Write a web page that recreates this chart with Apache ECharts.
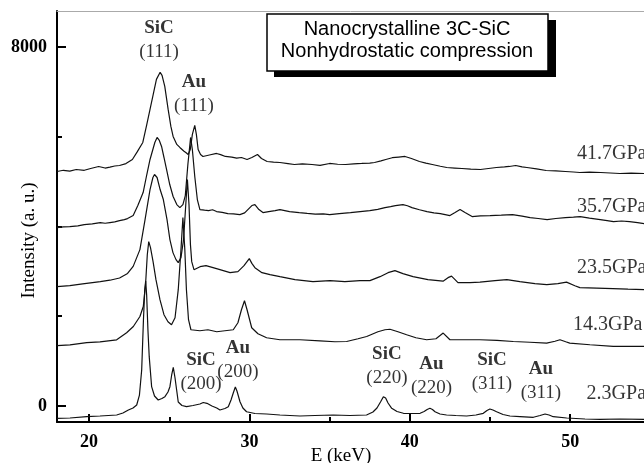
<!DOCTYPE html>
<html>
<head>
<meta charset="utf-8">
<script src="https://cdn.jsdelivr.net/npm/echarts@6/dist/echarts.min.js"></script>
<style>
  html, body { margin: 0; padding: 0; background: #fff; }
  #chart { width: 644px; height: 463px; }
</style>
</head>
<body>
<div id="chart"></div>
<script>
// axis ticks
const xMajorTicks = [20, 30, 40, 50];
const xMinorTicks = [25, 35, 45];
const yLabelTicks = [0, 8000];
const yMinorTicks = [2000, 4000, 6000];

// spectra [E (keV), intensity] (offset stack as plotted)
const p417 = [[18.0,5223],[18.4,5250],[18.8,5232],[19.2,5268],[19.7,5250],[20.1,5290],[20.6,5335],[21.0,5300],[21.3,5320],[21.6,5345],[21.9,5357],[22.3,5400],[22.7,5491],[23.0,5660],[23.35,5870],[23.6,6272],[23.8,6607],[24.0,6942],[24.2,7276],[24.43,7433],[24.55,7366],[24.72,7120],[24.93,6607],[25.1,6227],[25.24,6004],[25.47,5826],[25.66,5759],[25.9,5680],[26.05,5640],[26.18,5602],[26.31,5714],[26.44,6049],[26.59,6250],[26.69,6049],[26.8,5714],[26.95,5600],[27.1,5558],[27.5,5590],[27.95,5625],[28.2,5600],[28.5,5558],[28.9,5545],[29.2,5520],[29.5,5535],[29.85,5491],[30.15,5535],[30.5,5602],[30.75,5513],[31.1,5446],[31.5,5430],[31.9,5424],[32.4,5400],[32.8,5379],[33.3,5395],[33.9,5379],[34.4,5360],[35.0,5402],[35.5,5385],[36.0,5379],[36.5,5395],[37.0,5402],[37.5,5410],[37.8,5424],[38.2,5460],[38.5,5491],[38.9,5530],[39.3,5545],[39.7,5558],[40.1,5513],[40.6,5446],[41.0,5410],[41.4,5379],[41.9,5340],[42.3,5312],[42.8,5300],[43.25,5290],[43.8,5275],[44.4,5268],[44.9,5290],[45.4,5312],[45.9,5325],[46.2,5335],[46.6,5357],[47.0,5325],[47.3,5312],[47.9,5280],[48.5,5245],[49.1,5235],[49.7,5223],[50.2,5212],[50.6,5201],[51.2,5210],[51.9,5201],[52.5,5190],[53.1,5178],[53.8,5185],[54.6,5178]];

const p357 = [[18.0,3973],[18.4,3990],[18.8,3995],[19.3,4010],[19.7,4040],[20.2,4055],[20.7,4085],[21.0,4070],[21.3,4085],[21.6,4100],[21.9,4129],[22.2,4150],[22.4,4174],[22.75,4241],[23.04,4464],[23.37,4754],[23.6,5156],[23.8,5491],[24.1,5870],[24.24,5982],[24.38,5915],[24.52,5781],[24.67,5535],[24.83,5268],[25.03,4933],[25.24,4665],[25.47,4486],[25.66,4419],[25.85,4486],[26.0,4687],[26.16,5379],[26.33,5982],[26.44,5714],[26.59,5111],[26.75,4598],[26.91,4375],[27.2,4360],[27.45,4352],[27.7,4370],[27.95,4330],[28.3,4310],[28.65,4285],[29.0,4280],[29.4,4263],[29.7,4300],[29.84,4352],[30.15,4464],[30.34,4486],[30.59,4375],[30.84,4308],[31.2,4330],[31.6,4350],[31.9,4375],[32.5,4330],[33.1,4308],[33.6,4290],[34.1,4275],[34.6,4280],[35.0,4263],[35.6,4285],[36.3,4308],[36.9,4330],[37.5,4352],[38.0,4380],[38.45,4419],[38.8,4440],[39.1,4464],[39.57,4486],[39.85,4460],[40.13,4419],[40.6,4370],[41.07,4330],[41.5,4300],[41.9,4285],[42.5,4241],[42.82,4308],[43.13,4375],[43.44,4308],[43.88,4218],[44.4,4235],[45.0,4241],[45.7,4250],[46.4,4263],[47.0,4230],[47.5,4196],[48.0,4175],[48.56,4152],[49.1,4175],[49.7,4196],[50.2,4205],[50.62,4218],[51.2,4185],[51.87,4152],[52.3,4130],[52.7,4107],[53.2,4120],[53.7,4107],[54.2,4085],[54.6,4063]];

const p235 = [[18.0,2656],[18.8,2680],[19.6,2720],[20.7,2768],[21.3,2800],[21.9,2850],[22.4,2950],[22.75,3109],[23.17,3482],[23.49,4152],[23.8,4821],[23.98,5089],[24.08,5156],[24.24,5089],[24.43,4821],[24.63,4598],[24.86,4152],[25.04,3705],[25.23,3415],[25.42,3259],[25.56,3192],[25.73,3303],[25.89,3705],[26.01,4375],[26.13,5044],[26.23,4486],[26.32,3593],[26.4,3214],[26.54,3035],[26.92,3102],[27.29,3125],[27.73,3080],[28.16,3035],[28.79,2968],[29.28,2990],[29.66,3125],[29.99,3281],[30.16,3170],[30.34,3080],[30.78,2968],[31.28,2924],[31.9,2879],[32.84,2812],[33.96,2768],[35.02,2790],[35.95,2768],[36.89,2790],[37.51,2790],[38.14,2879],[38.64,2968],[39.07,3013],[39.57,2946],[40.2,2879],[41.13,2812],[42.07,2779],[42.38,2857],[42.6,2890],[42.82,2812],[43.0,2745],[43.75,2745],[44.37,2757],[45.31,2790],[46.05,2812],[46.86,2768],[47.8,2723],[48.54,2700],[49.23,2723],[49.77,2757],[50.29,2678],[50.6,2634],[51.66,2622],[52.66,2611],[53.6,2600],[54.6,2589]];

const p143 = [[18.0,1344],[18.81,1360],[19.85,1411],[20.68,1427],[21.72,1472],[22.34,1628],[22.76,1768],[23.17,1991],[23.38,2214],[23.52,2698],[23.63,3367],[23.72,3660],[23.83,3526],[23.99,3214],[24.17,2812],[24.42,2366],[24.67,2031],[24.92,1875],[25.14,1808],[25.36,1964],[25.56,2589],[25.73,3482],[25.85,4196],[25.97,3482],[26.07,2589],[26.2,1920],[26.35,1696],[26.91,1674],[27.41,1696],[27.96,1651],[28.47,1674],[28.99,1696],[29.28,1852],[29.5,2142],[29.69,2343],[29.85,2142],[30.14,1741],[30.53,1607],[31.07,1517],[31.9,1473],[33.15,1473],[34.4,1450],[35.33,1428],[36.06,1434],[36.77,1495],[37.31,1545],[38.01,1651],[38.45,1696],[38.76,1707],[39.26,1651],[39.8,1585],[40.38,1517],[41.05,1473],[41.63,1495],[42.08,1622],[42.5,1473],[43.43,1473],[44.37,1473],[45.43,1461],[46.45,1434],[47.49,1417],[48.53,1399],[49.05,1439],[49.36,1473],[49.72,1428],[49.97,1399],[51.23,1362],[52.68,1324],[54.6,1324]];

const p23 = [[18.0,-278],[18.81,-271],[19.85,-242],[20.68,-226],[21.72,-204],[22.11,-159],[22.45,-92],[22.74,-48],[22.97,19],[23.14,241],[23.28,799],[23.39,1915],[23.47,2584],[23.53,2784],[23.59,2472],[23.67,1692],[23.75,1096],[23.9,427],[24.08,220],[24.31,130],[24.54,164],[24.73,204],[24.92,309],[25.04,427],[25.15,688],[25.25,859],[25.36,621],[25.46,353],[25.56,86],[25.79,8],[26.08,-19],[26.48,8],[26.91,41],[27.12,75],[27.35,57],[27.66,-3],[27.96,-48],[28.16,-92],[28.47,-59],[28.68,-19],[28.85,130],[28.99,286],[29.12,420],[29.22,331],[29.41,92],[29.59,-48],[29.82,-131],[30.34,-171],[31.07,-182],[31.9,-204],[33.15,-226],[34.08,-215],[35.22,-204],[36.26,-215],[37.3,-204],[37.7,-137],[37.95,-48],[38.17,86],[38.35,204],[38.49,175],[38.64,63],[38.87,-55],[39.2,-126],[39.6,-166],[40.14,-171],[40.64,-166],[40.89,-126],[41.08,-81],[41.25,-55],[41.41,-81],[41.57,-131],[41.88,-182],[42.29,-204],[42.87,-215],[43.54,-226],[44.12,-204],[44.58,-166],[44.81,-104],[44.99,-70],[45.18,-92],[45.41,-131],[45.81,-193],[46.24,-226],[46.87,-238],[47.7,-255],[48.12,-215],[48.43,-182],[48.68,-204],[48.94,-242],[49.78,-271],[50.92,-293],[51.86,-300],[53.1,-293],[54.6,-300]];

const spectra = [p417, p357, p235, p143, p23];

// reflection labels
const peakNames = ['SiC', 'Au', 'SiC', 'Au', 'SiC', 'Au', 'SiC', 'Au'];
const peakHkl = ['(111)', '(111)', '(200)', '(200)', '(220)', '(220)', '(311)', '(311)'];
const peakE = [24.36, 26.54, 26.98, 29.28, 38.57, 41.35, 45.12, 48.17];
const peakI = [8155, 6951, 755, 1022, 888, 654, 755, 554];

// pressure labels
const pressNames = ['41.7GPa', '35.7GPa', '23.5GPa', '14.3GPa', '2.3GPa'];
const pressE = [50.42, 50.42, 50.42, 50.17, 51.02];
const pressI = [5614, 4432, 3073, 1802, 264];

const serif = '"Liberation Serif", "DejaVu Serif", serif';
const xMin = 18, xMax = 54.6, yMin = -360, yMax = 8800;

const chart = echarts.init(document.getElementById('chart'));

const lineSeries = spectra.map(d => ({
  type: 'line',
  data: d,
  showSymbol: false,
  symbol: 'none',
  smooth: false,
  lineStyle: { color: '#111', width: 1.2 },
  silent: true,
  z: 2
}));

chart.setOption({
  animation: false,
  backgroundColor: '#fff',
  grid: { left: 57, right: 0, top: 11, bottom: 41, containLabel: false, outerBoundsMode: 'none' },
  xAxis: [
    {
      type: 'value', min: xMin, max: xMax, position: 'bottom',
      axisLine: { onZero: false, lineStyle: { color: '#000', width: 2 } },
      axisTick: { inside: true, length: 8, customValues: xMajorTicks, lineStyle: { color: '#000', width: 2 } },
      axisLabel: { customValues: xMajorTicks, margin: 11, color: '#000', fontFamily: serif, fontSize: 18, fontWeight: 'bold', formatter: v => String(v) },
      splitLine: { show: false },
      name: 'E (keV)', nameLocation: 'middle', nameGap: 25, nameMoveOverlap: false,
      nameTextStyle: { color: '#000', fontFamily: serif, fontSize: 19, padding: [0, 19, 0, 0] }
    },
    {
      type: 'value', min: xMin, max: xMax, position: 'bottom',
      axisLine: { show: false, onZero: false },
      axisTick: { inside: true, length: 5, customValues: xMinorTicks, lineStyle: { color: '#000', width: 2 } },
      axisLabel: { show: false },
      splitLine: { show: false }
    },
    {
      type: 'value', min: xMin, max: xMax, position: 'top',
      axisLine: { onZero: false, lineStyle: { color: '#aaa', width: 1 } },
      axisTick: { show: false }, axisLabel: { show: false }, splitLine: { show: false }
    }
  ],
  yAxis: [
    {
      type: 'value', min: yMin, max: yMax, position: 'left',
      axisLine: { onZero: false, lineStyle: { color: '#000', width: 2 } },
      axisTick: { inside: true, length: 9, customValues: yLabelTicks, lineStyle: { color: '#000', width: 2 } },
      axisLabel: { customValues: yLabelTicks, margin: 10, color: '#000', fontFamily: serif, fontSize: 18, fontWeight: 'bold', formatter: v => String(v) },
      splitLine: { show: false },
      name: 'Intensity (a. u.)', nameLocation: 'middle', nameGap: 18, nameRotate: 90, nameMoveOverlap: false,
      nameTextStyle: { color: '#000', fontFamily: serif, fontSize: 19, padding: [0, 48, 0, 0] }
    },
    {
      type: 'value', min: yMin, max: yMax, position: 'left',
      axisLine: { show: false, onZero: false },
      axisTick: { inside: true, length: 5, customValues: yMinorTicks, lineStyle: { color: '#000', width: 2 } },
      axisLabel: { show: false },
      splitLine: { show: false }
    }
  ],
  graphic: [
    { type: 'rect', shape: { x: 274, y: 20, width: 282, height: 57 }, style: { fill: '#000' }, z: 10 },
    { type: 'rect', shape: { x: 267, y: 14, width: 281, height: 57 }, style: { fill: '#fff', stroke: '#000', lineWidth: 1.5 }, z: 11 },
    {
      type: 'text', x: 407, y: 40, z: 12,
      style: {
        text: 'Nanocrystalline 3C-SiC\nNonhydrostatic compression',
        align: 'center', verticalAlign: 'middle', lineHeight: 22,
        fontFamily: '"Liberation Sans", Arial, sans-serif', fontSize: 20, fill: '#000'
      }
    }
  ],
  series: lineSeries.concat([
    {
      type: 'scatter',
      symbolSize: 0,
      silent: true,
      data: peakE.map((e, i) => ({ value: [e, peakI[i]], name: peakNames[i], hkl: peakHkl[i] })),
      label: {
        show: true, position: 'inside',
        formatter: p => '{b|' + p.data.name + '}\n{n|' + p.data.hkl + '}',
        rich: {
          b: { fontFamily: serif, fontSize: 19, fontWeight: 'bold', color: '#000', lineHeight: 24, align: 'center' },
          n: { fontFamily: serif, fontSize: 19, color: '#000', lineHeight: 24, align: 'center' }
        }
      },
      z: 5
    },
    {
      type: 'scatter',
      symbolSize: 0,
      silent: true,
      data: pressE.map((e, i) => ({ value: [e, pressI[i]], name: pressNames[i] })),
      label: {
        show: true, position: 'inside', align: 'left', verticalAlign: 'middle',
        formatter: '{b}', fontFamily: serif, fontSize: 20, color: '#000'
      },
      z: 5
    }
  ])
});
</script>
</body>
</html>
